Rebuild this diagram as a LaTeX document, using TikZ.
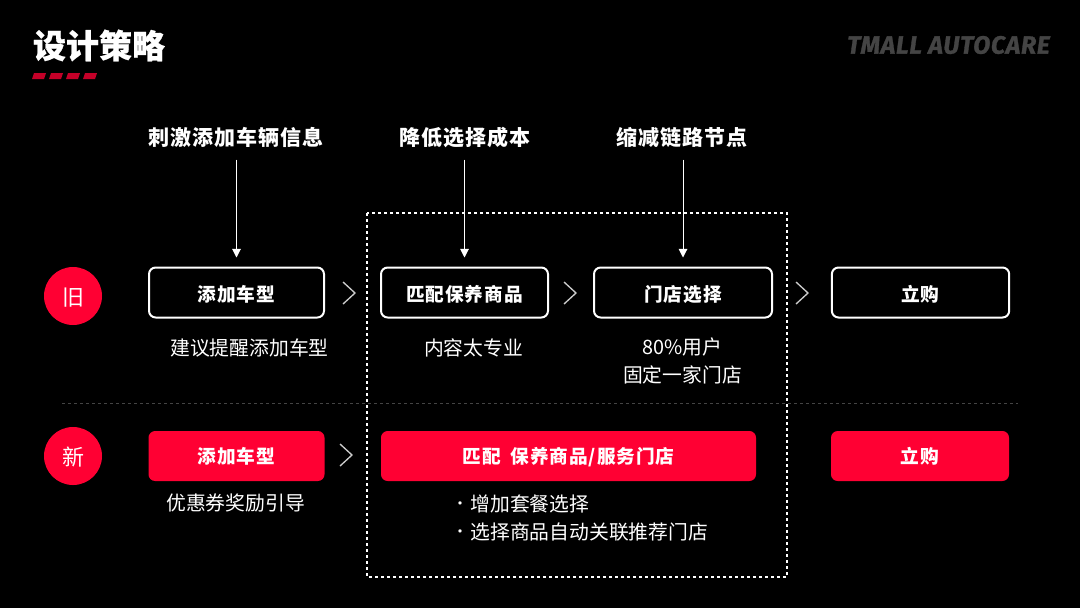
\documentclass[tikz,border=0pt]{standalone}
\usepackage{fontspec}
\usetikzlibrary{arrows.meta}
\newfontfamily\cjk{Noto Sans CJK SC}
\newfontfamily\cjktitle[FakeBold=0.6]{Noto Sans CJK SC}
\newfontfamily\cjkhead[LetterSpace=5.4]{Noto Sans CJK SC}
\newfontfamily\cjklabel[LetterSpace=5]{Noto Sans CJK SC}
\newfontfamily\brandfont[LetterSpace=3,FakeBold=1.2]{Fira Sans}
\definecolor{accent}{HTML}{FF0033}
\definecolor{accentdark}{HTML}{C40028}
\definecolor{brandgray}{HTML}{444444}
\definecolor{chevgray}{HTML}{CCCCCC}
\tikzset{
  every node/.style={inner sep=0pt,outer sep=0pt,text=white},
  title/.style={font=\cjktitle\bfseries\fontsize{24.75}{28}\selectfont},
  headline/.style={font=\cjkhead\bfseries\fontsize{15.75}{18}\selectfont,text height=11.5pt,text depth=1.5pt},
  caption/.style={font=\cjk\fontsize{14.85}{18}\selectfont},
  boxlabel/.style={font=\cjklabel\bfseries\fontsize{14}{16}\selectfont,align=center,rounded corners=5pt},
  oldbox/.style={boxlabel,draw=white,line width=1.5pt,minimum height=37.5pt,text height=13.5pt,text depth=.5pt},
  newbox/.style={boxlabel,fill=accent,minimum height=37.5pt},
  badge/.style={circle,fill=accent,minimum size=43.5pt,font=\cjk\fontsize{16.5}{20}\selectfont,text height=14.7pt,text depth=1pt},
  pointer/.style={draw=white,line width=.75pt,-{Triangle[width=6.5pt,length=6.5pt]},shorten >=7.5pt,shorten <=9pt},
  chevron/.pic={\draw[chevgray,line width=1pt] (-6,-11) -- (6,0) -- (-6,11);}
}
\begin{document}
\begin{tikzpicture}[x=.75pt,y=-.75pt]
  \useasboundingbox (0,0) rectangle (1080,608);
  \fill[black] (0,0) rectangle (1080,608);

  % Page header
  \node[title,anchor=center] (title) at (99,45.5) {设计策略};
  \foreach \px in {32,49,66,83}
    \fill[accentdark] (\px+2,73) -- (\px+14,73) -- (\px+12,79) -- (\px,79) -- cycle;
  \node[font=\brandfont\bfseries\itshape\fontsize{18.7}{22}\selectfont,text=brandgray] (brand) at (948.5,45) {TMALL AUTOCARE};

  % Row separator and highlighted region
  \draw[brandgray,line width=.75pt,dash pattern=on 2.25pt off 2.25pt] (62,403) -- (1018,403);
  \draw[white,line width=1.5pt,dash pattern=on 2.5pt off 2pt] (367,213) rectangle (787,577);

  % Goals
  \node[headline] (goalA) at (236,139) {刺激添加车辆信息};
  \node[headline] (goalB) at (465,139) {降低选择成本};
  \node[headline] (goalC) at (682,139) {缩减链路节点};

  % Existing flow
  \node[badge] (old) at (73,296) {旧};
  \node[oldbox,minimum width=131.25pt] (oldA) at (236.5,292.5) {添加车型};
  \node[oldbox,minimum width=125.25pt] (oldB) at (464.5,292.5) {匹配保养商品};
  \node[oldbox,minimum width=133.5pt] (oldC) at (683,292.5) {门店选择};
  \node[oldbox,minimum width=133pt] (oldD) at (920.5,292.5) {立购};

  \draw[pointer] (goalA.south -| oldA.north) -- (oldA.north);
  \draw[pointer] (goalB.south -| oldB.north) -- (oldB.north);
  \draw[pointer] (goalC.south -| oldC.north) -- (oldC.north);

  \pic at (349,293) {chevron};
  \pic at (570,293) {chevron};
  \pic at (802,293) {chevron};

  \node[caption] (noteA) at (249.5,348) {建议提醒添加车型};
  \node[caption] (noteB) at (473.5,348) {内容太专业};
  \node[caption] (noteC1) at (682.5,347) {80\%用户};
  \node[caption] (noteC2) at (682.5,375) {固定一家门店};

  % Proposed flow
  \node[badge] (new) at (73,456) {新};
  \node[newbox,minimum width=132pt,text height=11pt,text depth=.3pt] (newA) at (236.5,456) {添加车型};
  \node[newbox,minimum width=281.25pt,text height=12pt,text depth=1pt] (newB) at (568.5,456) {匹配\hspace{3.5pt} 保养商品/服务门店};
  \node[newbox,minimum width=133.5pt,text height=11pt,text depth=.3pt] (newC) at (920,456) {立购};

  \pic at (346,455) {chevron};

  \node[caption] (noteD) at (235.5,503) {优惠券奖励引导};
  \node[caption,font=\cjk\fontsize{12}{14}\selectfont,anchor=west] (noteE) at (452,506) {·};
  \node[caption,anchor=west] (noteF) at (470.5,504) {增加套餐选择};
  \node[caption,font=\cjk\fontsize{12}{14}\selectfont,anchor=west] (noteG) at (452,534) {·};
  \node[caption,anchor=west] (noteH) at (470.5,532) {选择商品自动关联推荐门店};
\end{tikzpicture}
\end{document}
